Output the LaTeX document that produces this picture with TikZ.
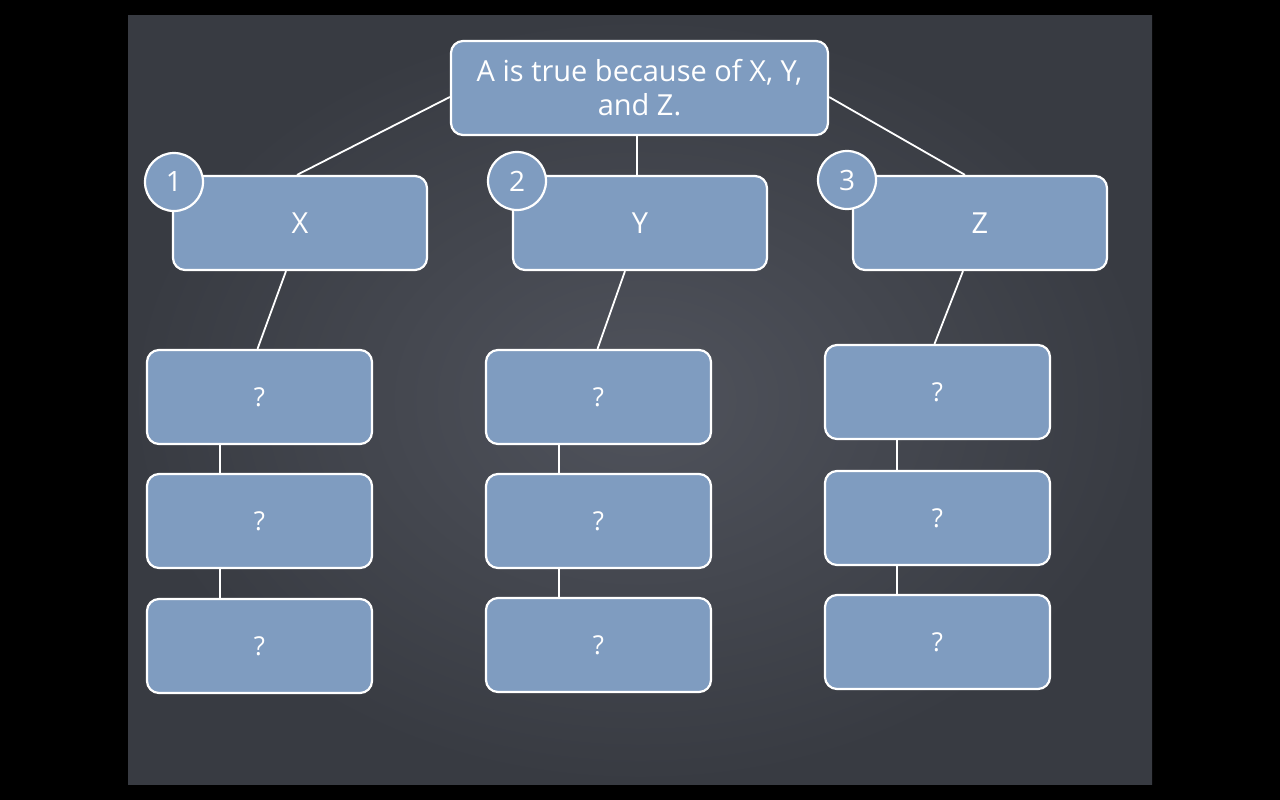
\documentclass[tikz,border=0pt]{standalone}
\usepackage{fontspec}
\setmainfont{Open Sans}
\usetikzlibrary{calc}
\definecolor{boxfill}{RGB}{127,156,192}
\definecolor{slatein}{RGB}{80,83,92}
\definecolor{slateout}{RGB}{56,59,66}
\tikzset{
  card/.style={draw=white, line width=2.2pt, fill=boxfill, rounded corners=12pt,
    minimum width=#1, minimum height=94pt, inner sep=0pt, text=white, font=\fontsize{29}{34}\selectfont},
  card/.default=254pt,
  qcard/.style={card=225pt, font=\fontsize{26}{30}\selectfont},
  badge/.style={circle, draw=white, line width=2.2pt, fill=boxfill, minimum size=58pt,
    inner sep=0pt, text=white, font=\fontsize{28}{30}\selectfont},
  link/.style={draw=white, line width=1.8pt}
}
\begin{document}
\begin{tikzpicture}[x=1pt,y=-1pt]
\useasboundingbox (0,0) rectangle (1280,800);
\fill[black] (0,0) rectangle (1280,800);
\shade[inner color=slatein, outer color=slateout] (128,16) rectangle (1152,784);

% top
\node[card=377pt, align=center] (top) at (639.5,88) {A is true because of X, Y,\\ and Z.};
% level 1
\node[card] (X) at (300,223) {X};
\node[card] (Y) at (640,223) {Y};
\node[card] (Z) at (980,223) {Z};
% column 1
\node[qcard] (a1) at (259.5,397) {?};
\node[qcard] (a2) at (259.5,521) {?};
\node[qcard] (a3) at (259.5,646) {?};
% column 2
\node[qcard] (b1) at (598.5,397) {?};
\node[qcard] (b2) at (598.5,521) {?};
\node[qcard] (b3) at (598.5,645) {?};
% column 3
\node[qcard] (c1) at (937.5,392) {?};
\node[qcard] (c2) at (937.5,518) {?};
\node[qcard] (c3) at (937.5,642) {?};

% connectors
\draw[link] ($(top.west)+(0,9)$) -- ($(X.north)+(-3,0)$);
\draw[link] ($(top.east)+(0,9)$) -- ($(Z.north)+(-15,0)$);
\draw[link] ($(top.south)+(-2.5,0)$) -- ($(Y.north)+(-3,0)$);
\draw[link] ($(X.south)+(-14,0)$) -- ($(a1.north)+(-2,0)$);
\draw[link] ($(Y.south)+(-15,0)$) -- ($(b1.north)+(-1,0)$);
\draw[link] ($(Z.south)+(-17,0)$) -- ($(c1.north)+(-3,0)$);
\draw[link] ($(a1.south)+(-39.5,0)$) -- ($(a2.north)+(-39.5,0)$);
\draw[link] ($(a2.south)+(-39.5,0)$) -- ($(a3.north)+(-39.5,0)$);
\draw[link] ($(b1.south)+(-39.5,0)$) -- ($(b2.north)+(-39.5,0)$);
\draw[link] ($(b2.south)+(-39.5,0)$) -- ($(b3.north)+(-39.5,0)$);
\draw[link] ($(c1.south)+(-40.5,0)$) -- ($(c2.north)+(-40.5,0)$);
\draw[link] ($(c2.south)+(-40.5,0)$) -- ($(c3.north)+(-40.5,0)$);

% badges
\node[badge] (n1) at (174,182) {1};
\node[badge] (n2) at (517,181) {2};
\node[badge] (n3) at (847,180) {3};
\end{tikzpicture}
\end{document}
